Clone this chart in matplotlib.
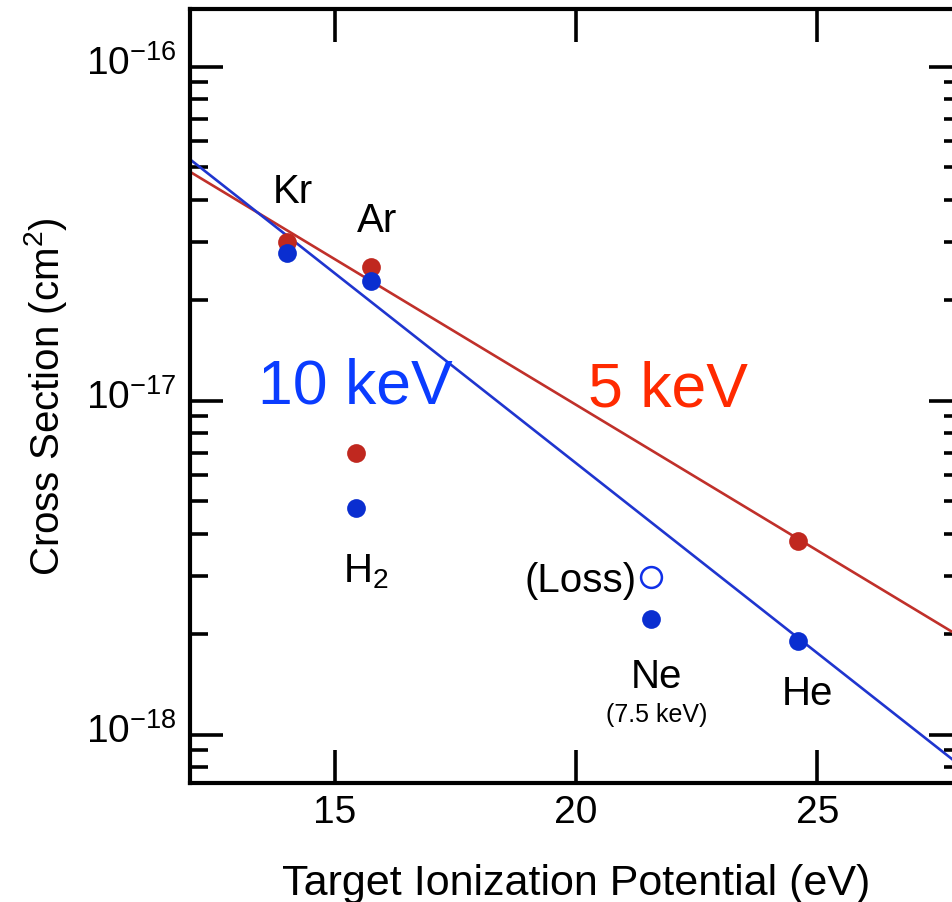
import numpy as np
import matplotlib
matplotlib.use("Agg")
import matplotlib.pyplot as plt
import matplotlib.transforms as mtransforms
from matplotlib.ticker import LogLocator, FixedLocator, FuncFormatter, NullLocator

plt.rcParams['font.family'] = ['Liberation Sans', 'DejaVu Sans']
plt.rcParams['mathtext.fontset'] = 'custom'
plt.rcParams['mathtext.rm'] = 'Liberation Sans'
plt.rcParams['mathtext.it'] = 'Liberation Sans:italic'
plt.rcParams['mathtext.bf'] = 'Liberation Sans:bold'

# target ionization potentials (eV): Kr, H2, Ar, Ne, He
ip_5kev = [14.00, 15.43, 15.76, 24.59]
sigma_5kev = [2.99e-17, 7.0e-18, 2.52e-17, 3.81e-18]
fit_5kev = [0, 2, 3]          # Kr, Ar, He

ip_10kev = [14.00, 15.43, 15.76, 21.56, 24.59]
sigma_10kev = [2.77e-17, 4.79e-18, 2.29e-17, 2.22e-18, 1.91e-18]
fit_10kev = [0, 2, 4]         # Kr, Ar, He

# Ne charge loss at 7.5 keV
ip_loss = [21.56]
sigma_loss = [2.97e-18]

x_ticks = [15, 20, 25]
y_decades = [1e-18, 1e-17, 1e-16]

RED = '#c0281f'
BLUE = '#0a2ed0'
LINE_RED = '#c0302a'
LINE_BLUE = '#1f35cf'


def exp_fit(x, y, idx):
    xs = np.array(x)[idx]
    ys = np.log10(np.array(y)[idx])
    slope, icpt = np.polyfit(xs, ys, 1)
    xx = np.array([11.0, 29.0])
    return xx, 10 ** (icpt + slope * xx)


fig = plt.figure(figsize=(9.52, 9.03), dpi=100)
ax = fig.add_axes([0.1996, 0.1318, 0.811, 0.857])

xx, yy = exp_fit(ip_5kev, sigma_5kev, fit_5kev)
ax.plot(xx, yy, color=LINE_RED, lw=1.9, zorder=2)
xx, yy = exp_fit(ip_10kev, sigma_10kev, fit_10kev)
ax.plot(xx, yy, color=LINE_BLUE, lw=1.9, zorder=2)

ax.plot(ip_5kev, sigma_5kev, 'o', color=RED, ms=13.5, mew=0, zorder=3)
ax.plot(ip_10kev, sigma_10kev, 'o', color=BLUE, ms=13.5, mew=0, zorder=4)
ax.plot(ip_loss, sigma_loss, 'o', mfc='white', mec='#1030e8', ms=15, mew=1.8, zorder=4)

ax.set_yscale('log')
ax.set_xlim(12, 28)
ax.set_ylim(7.18e-19, 1.49e-16)

ax.xaxis.set_major_locator(FixedLocator(x_ticks))
ax.xaxis.set_minor_locator(NullLocator())
ax.yaxis.set_major_locator(FixedLocator(y_decades))
ax.yaxis.set_minor_locator(LogLocator(base=10, subs=np.arange(2, 10)))
ax.yaxis.set_major_formatter(FuncFormatter(
    lambda v, _: r'$\mathregular{10^{%d}}$' % round(np.log10(v))))

ax.tick_params(which='both', direction='in', top=True, right=True,
               width=2.6, labelsize=28, color='black')
ax.tick_params(which='major', length=24, pad=10)
ax.tick_params(axis='x', which='major', pad=8)
ax.tick_params(which='minor', length=13)
for s in ax.spines.values():
    s.set_linewidth(3)

# lift the decade labels a little so the mantissa sits on the tick
shift = mtransforms.ScaledTranslation(0, 6 / 72, fig.dpi_scale_trans)
for t in ax.yaxis.get_majorticklabels():
    t.set_transform(t.get_transform() + shift)

ax.set_xlabel('Target Ionization Potential (eV)', fontsize=31, labelpad=24)
ax.set_ylabel('Cross Section (cm$^2$)', fontsize=29, labelpad=12)

lbl = dict(fontsize=29, color='black', va='baseline')
ax.text(14.13, 3.94e-17, 'Kr', ha='center', **lbl)
ax.text(15.88, 3.23e-17, 'Ar', ha='center', **lbl)
ax.text(15.18, 2.89e-18, 'H$_2$', ha='left', **lbl)
ax.text(21.26, 2.70e-18, '(Loss)', ha='right', **lbl)
ax.text(21.67, 1.39e-18, 'Ne', ha='center', **lbl)
ax.text(21.67, 1.10e-18, '(7.5 keV)', ha='center', va='baseline', fontsize=18)
ax.text(24.79, 1.24e-18, 'He', ha='center', **lbl)

ax.text(15.43, 9.86e-18, '10 keV', ha='center', va='baseline', fontsize=45, color='#0a3cff')
ax.text(21.90, 9.66e-18, '5 keV', ha='center', va='baseline', fontsize=45, color='#ff2a00')

fig.savefig('out.png', dpi=100)
